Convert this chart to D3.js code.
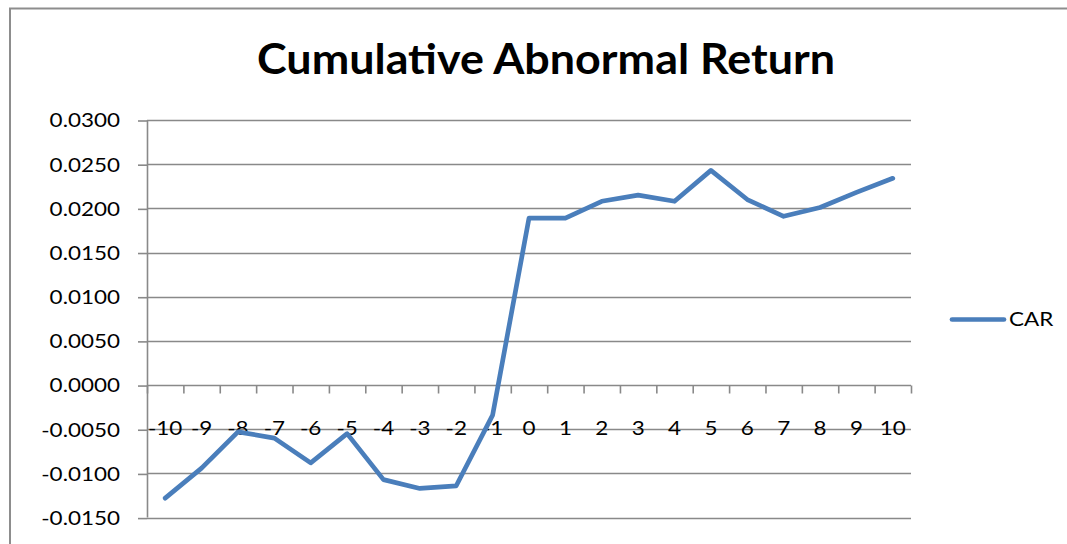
<!DOCTYPE html>
<html>
<head>
<meta charset="utf-8">
<script src="https://cdn.jsdelivr.net/npm/d3@7"></script>
<style>
  html, body { margin: 0; padding: 0; background: #fff; }
  svg { display: block; }
  text { font-family: Lato, "Open Sans", sans-serif; fill: #000; }
</style>
</head>
<body>
<svg id="chart" width="1067" height="544"></svg>
<script>
// ---- data ----
const categories = ["-10","-9","-8","-7","-6","-5","-4","-3","-2","-1","0","1","2","3","4","5","6","7","8","9","10"];
const carValues = [-0.0128,-0.0094,-0.0053,-0.0060,-0.0088,-0.0055,-0.0107,-0.0117,-0.0114,-0.0034,
                   0.0189,0.0189,0.0208,0.0215,0.0208,0.0243,0.0210,0.0191,0.0201,0.0218,0.0234];
const yTicks = [-0.015,-0.010,-0.005,0,0.005,0.010,0.015,0.020,0.025,0.030];
const seriesName = "CAR";
const titleText = "Cumulative Abnormal Return";

// ---- layout ----
const svg = d3.select("#chart");
const W = 1067, H = 544;
const plot = {left: 147, right: 911, top: 120, bottom: 517.6};
const sx = 1.17;            // horizontal text stretch
const fs = 19.2;            // label font size
const gridColor = "#898989";
const lineColor = "#4a7ebb";

svg.append("rect").attr("width", W).attr("height", H).attr("fill", "#fff");
// outer chart border
svg.append("rect").attr("x", 10).attr("y", 8.5).attr("width", 1100).attr("height", 600)
  .attr("fill", "none").attr("stroke", "#8d8d8d").attr("stroke-width", 2);

const x = d3.scaleBand().domain(categories).range([plot.left, plot.right]).padding(0);
const y = d3.scaleLinear().domain([-0.015, 0.030]).range([plot.bottom, plot.top]);
const xIdx = d3.scaleLinear().domain([0, categories.length]).range([plot.left, plot.right]);

// gridlines
svg.append("g").selectAll("line").data(yTicks).join("line")
  .attr("x1", plot.left).attr("x2", plot.right)
  .attr("y1", d => Math.round(y(d)) + 0.5).attr("y2", d => Math.round(y(d)) + 0.5)
  .attr("stroke", gridColor).attr("stroke-width", 1.6);

// y axis
const yAxis = svg.append("g").attr("transform", `translate(${plot.left},0)`)
  .call(d3.axisLeft(y).tickValues(yTicks).tickSize(9).tickPadding(0)
        .tickFormat(d => d.toFixed(4)));
yAxis.select(".domain").attr("stroke", gridColor).attr("stroke-width", 1.6)
  .attr("d", `M0.5,${y(0.030)}V${y(-0.015)}`);
yAxis.selectAll(".tick line").attr("stroke", gridColor).attr("stroke-width", 1.6)
  .attr("transform", "translate(0,0.5)");
yAxis.selectAll(".tick text")
  .attr("font-size", fs).attr("font-family", "Lato, 'Open Sans', sans-serif")
  .attr("x", -27 / sx).attr("dy", "0.36em")
  .attr("transform", `scale(${sx},1)`);

// x axis tick marks at category boundaries (on the zero line)
const xTickAxis = svg.append("g").attr("transform", `translate(0,${Math.round(y(0)) + 0.5})`)
  .call(d3.axisBottom(xIdx).tickValues(d3.range(categories.length + 1)).tickSize(8).tickFormat(""));
xTickAxis.select(".domain").remove();
xTickAxis.selectAll(".tick line").attr("stroke", gridColor).attr("stroke-width", 1.6);

// x axis category labels
const xLabAxis = svg.append("g").attr("transform", `translate(0,${y(0)})`)
  .call(d3.axisBottom(x).tickSize(0));
xLabAxis.select(".domain").remove();
xLabAxis.selectAll(".tick text")
  .attr("font-size", fs).attr("font-family", "Lato, 'Open Sans', sans-serif")
  .attr("y", 50).attr("dy", 0)
  .attr("transform", `scale(${sx},1)`);

// CAR line
const line = d3.line()
  .x((d, i) => x(categories[i]) + x.bandwidth() / 2)
  .y(d => y(d));
svg.append("path").datum(carValues)
  .attr("d", line).attr("fill", "none")
  .attr("stroke", lineColor).attr("stroke-width", 4.7)
  .attr("stroke-linejoin", "round").attr("stroke-linecap", "round");

// legend
const leg = svg.append("g").attr("transform", "translate(952,319.5)");
leg.append("line").attr("x1", 0).attr("x2", 52).attr("y1", 0).attr("y2", 0)
  .attr("stroke", lineColor).attr("stroke-width", 4.7).attr("stroke-linecap", "round");
leg.append("text").attr("transform", `translate(57,0) scale(${sx},1)`)
  .attr("font-size", fs).attr("dy", "0.36em").text(seriesName);

// title
svg.append("text")
  .attr("x", 546).attr("y", 74)
  .attr("text-anchor", "middle")
  .attr("font-size", 42).attr("font-weight", "bold")
  .attr("textLength", 578).attr("lengthAdjust", "spacingAndGlyphs")
  .text(titleText);
</script>
</body>
</html>
